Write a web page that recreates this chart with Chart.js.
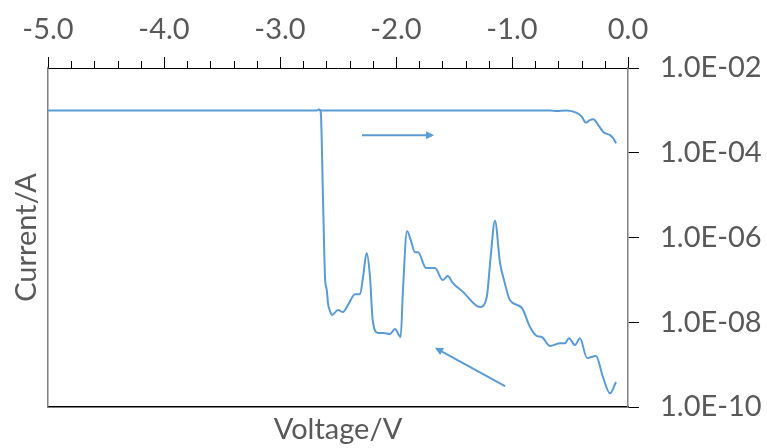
<!DOCTYPE html>
<html><head><meta charset="utf-8">
<script src="https://cdn.jsdelivr.net/npm/chart.js@4/dist/chart.umd.min.js"></script>
<style>html,body{margin:0;padding:0;background:#fff}#wrap{width:767px;height:448px}</style>
</head><body><div id="wrap"><canvas id="c" width="767" height="448"></canvas></div>
<script>
// ---- data ----
const upperVoltage = [-5.0, -2.68, -2.665, -2.65, -0.672, -0.615, -0.528, -0.442, -0.399, -0.362, -0.328, -0.299, -0.256, -0.213, -0.155, -0.127, -0.103];
const upperCurrent = [1.0e-3, 1.0e-3, 1.05e-3, 1.0e-3, 1.0e-3, 9.7e-4, 1.0e-3, 8.7e-4, 7.1e-4, 5.1e-4, 5.9e-4, 6.2e-4, 4.5e-4, 3.1e-4, 2.6e-4, 2.2e-4, 1.67e-4];

const lowerVoltage = [-2.664, -2.649, -2.629, -2.612, -2.597, -2.586, -2.569, -2.552, -2.500, -2.457, -2.414, -2.353, -2.310, -2.284, -2.253, -2.224, -2.201, -2.155, -2.112, -2.052, -2.009, -1.960, -1.940, -1.905, -1.873, -1.836, -1.810, -1.741, -1.664, -1.597, -1.554, -1.509, -1.422, -1.276, -1.218, -1.184, -1.147, -1.103, -1.069, -1.017, -0.916, -0.845, -0.784, -0.744, -0.672, -0.586, -0.543, -0.509, -0.457, -0.414, -0.353, -0.276, -0.216, -0.155, -0.103];
const lowerCurrent = [1.05e-3, 9.2e-4, 7.7e-6, 1.17e-7, 5.8e-8, 2.8e-8, 1.84e-8, 1.48e-8, 1.95e-8, 1.74e-8, 2.55e-8, 4.6e-8, 4.6e-8, 1.17e-7, 4.3e-7, 1.17e-7, 1.13e-8, 5.6e-9, 5.6e-9, 5.3e-9, 6.9e-9, 4.5e-9, 5.8e-8, 1.42e-6, 8.7e-7, 4.5e-7, 4.5e-7, 1.9e-7, 1.9e-7, 9.9e-8, 1.23e-7, 8.4e-8, 5.2e-8, 2.3e-8, 3.9e-8, 3.5e-7, 2.5e-6, 2.5e-7, 9.9e-8, 3.3e-8, 2.2e-8, 7.7e-9, 4.7e-9, 4.5e-9, 2.75e-9, 3.2e-9, 3.2e-9, 4.2e-9, 2.9e-9, 4.2e-9, 1.43e-9, 1.6e-9, 5.1e-10, 2.1e-10, 3.9e-10];

const xTickValues = [-5, -4, -3, -2, -1, 0];
const yTickValues = [1e-10, 1e-8, 1e-6, 1e-4, 1e-2];
// arrows: [startV, startI, endV, endI]
const arrowForward = [-2.293, 2.6e-4, -1.672, 2.6e-4];
const arrowBackward = [-1.06, 3.1e-10, -1.664, 2.5e-9];

const xTitle = 'Voltage/V';
const yTitle = 'Current/A';

// ---- styling ----
const BLUE = '#5B9BD5';
const TXT = '#595959';
const FONT = 'Lato, "Open Sans", sans-serif';
const FS = 29;

const toPts = (xs, ys) => xs.map((x, i) => ({x, y: ys[i]}));

function fmtExp(v) {
  const e = Math.round(Math.log10(v));
  const s = Math.abs(e) < 10 ? '0' + Math.abs(e) : '' + Math.abs(e);
  return '1.0E' + (e < 0 ? '-' : '+') + s;
}

const extras = {
  id: 'extras',
  afterDraw(chart) {
    const ctx = chart.ctx;
    const xs = chart.scales.x, ys = chart.scales.y;
    const top = chart.chartArea.top;
    // minor ticks on top axis
    ctx.save();
    ctx.strokeStyle = '#000';
    ctx.lineWidth = 1;
    for (let k = 0; k <= 25; k++) {
      if (k % 5 === 0) continue;
      const v = -5 + k * 0.2;
      const px = Math.round(xs.getPixelForValue(v)) + 0.5;
      ctx.beginPath();
      ctx.moveTo(px, top);
      ctx.lineTo(px, top - 7);
      ctx.stroke();
    }
    // arrows
    const drawArrow = (a) => {
      const x1 = xs.getPixelForValue(a[0]), y1 = ys.getPixelForValue(a[1]);
      const x2 = xs.getPixelForValue(a[2]), y2 = ys.getPixelForValue(a[3]);
      const ang = Math.atan2(y2 - y1, x2 - x1);
      const hl = 8, hw = 4;
      ctx.strokeStyle = BLUE; ctx.fillStyle = BLUE; ctx.lineWidth = 2;
      ctx.beginPath();
      ctx.moveTo(x1, y1);
      ctx.lineTo(x2 - hl * Math.cos(ang) * 0.8, y2 - hl * Math.sin(ang) * 0.8);
      ctx.stroke();
      ctx.beginPath();
      ctx.moveTo(x2, y2);
      ctx.lineTo(x2 - hl * Math.cos(ang) + hw * Math.sin(ang), y2 - hl * Math.sin(ang) - hw * Math.cos(ang));
      ctx.lineTo(x2 - hl * Math.cos(ang) - hw * Math.sin(ang), y2 - hl * Math.sin(ang) + hw * Math.cos(ang));
      ctx.closePath();
      ctx.fill();
    };
    drawArrow(arrowForward);
    drawArrow(arrowBackward);
    ctx.restore();
  }
};

const lineDs = (data) => ({
  data, showLine: true, borderColor: BLUE, borderWidth: 2, pointRadius: 0,
  cubicInterpolationMode: 'monotone', fill: false
});

new Chart(document.getElementById('c'), {
  type: 'scatter',
  data: { datasets: [lineDs(toPts(upperVoltage, upperCurrent)), lineDs(toPts(lowerVoltage, lowerCurrent))] },
  options: {
    responsive: false, animation: false,
    layout: { padding: 0 },
    plugins: { legend: { display: false }, tooltip: { enabled: false } },
    scales: {
      x: {
        type: 'linear', position: 'top', min: -5, max: 0,
        afterBuildTicks: s => { s.ticks = xTickValues.map(v => ({value: v})); },
        afterFit: s => { s.height = 68; },
        ticks: { callback: v => Number(v).toFixed(1), color: TXT, font: {family: FONT, size: FS}, padding: 10, maxRotation: 0, autoSkip: false },
        grid: { drawOnChartArea: false, drawTicks: true, tickLength: 11, tickColor: '#000' },
        border: { color: '#000', width: 1 }
      },
      xb: {
        type: 'linear', position: 'bottom', min: -5, max: 0,
        afterFit: s => { s.height = 41; },
        ticks: { display: false },
        grid: { display: false },
        border: { color: '#000', width: 1.5 },
        title: { display: true, text: xTitle, color: TXT, font: {family: FONT, size: FS}, padding: {top: 0, bottom: 1} }
      },
      y: {
        type: 'logarithmic', position: 'right', min: 1e-10, max: 1e-2,
        afterBuildTicks: s => { s.ticks = yTickValues.map(v => ({value: v})); },
        afterFit: s => { s.width = 139; },
        ticks: { callback: v => fmtExp(v), color: TXT, font: {family: FONT, size: FS}, padding: 21, autoSkip: false },
        grid: { drawOnChartArea: false, drawTicks: true, tickLength: 11, tickColor: '#000' },
        border: { color: '#808080', width: 1.5 }
      },
      yl: {
        type: 'logarithmic', position: 'left', min: 1e-10, max: 1e-2,
        afterFit: s => { s.width = 48; },
        ticks: { display: false },
        grid: { display: false },
        border: { color: '#808080', width: 1.5 },
        title: { display: true, text: yTitle, color: TXT, font: {family: FONT, size: FS}, padding: {top: 9, bottom: 0} }
      }
    }
  },
  plugins: [extras]
});
</script>
</body></html>
